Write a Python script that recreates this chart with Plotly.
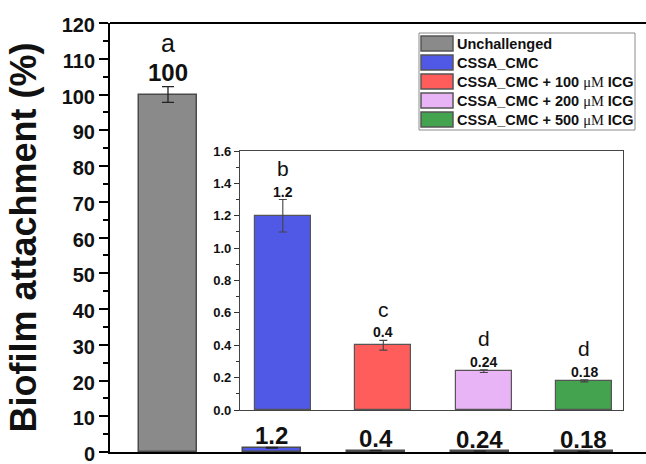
import plotly.graph_objects as go

# ---------------- data ----------------
categories = ["Unchallenged", "CSSA_CMC", "CSSA_CMC + 100 μM ICG",
              "CSSA_CMC + 200 μM ICG", "CSSA_CMC + 500 μM ICG"]
legend_labels = ["Unchallenged", "CSSA_CMC",
                 "CSSA_CMC + 100 <span style='font-family:Liberation Serif, Times New Roman, serif;font-weight:normal'>μM</span> ICG",
                 "CSSA_CMC + 200 <span style='font-family:Liberation Serif, Times New Roman, serif;font-weight:normal'>μM</span> ICG",
                 "CSSA_CMC + 500 <span style='font-family:Liberation Serif, Times New Roman, serif;font-weight:normal'>μM</span> ICG"]
values = [100, 1.2, 0.4, 0.24, 0.18]
errors = [2.2, 0.1, 0.03, 0.008, 0.006]
letters = ["a", "b", "c", "d", "d"]
colors = ["#8a8a8a", "#5058e6", "#ff5c5c", "#e9b4f5", "#43a34f"]
main_yticks = list(range(0, 121, 10))
inset_yticks = [0.0, 0.2, 0.4, 0.6, 0.8, 1.0, 1.2, 1.4, 1.6]

FONT = "Arial, Liberation Sans, sans-serif"
W, H = 646, 464
ML, MR, MT, MB = 110, 0, 23, 12
PW, PH = W - ML - MR, H - MT - MB


def px(x):
    return (x - ML) / PW


def py(y):
    return (H - MB - y) / PH


def fmt(v):
    return ("%g" % v)


fig = go.Figure()

# main bars
fig.add_trace(go.Bar(
    x=categories, y=values, width=0.558,
    marker=dict(color=colors, line=dict(color="#4a4a4a", width=1.5)),
    error_y=dict(type="data", array=errors, color="#222", thickness=1.3, width=6),
    xaxis="x", yaxis="y", showlegend=False, hoverinfo="skip"))

# inset bars (all but the first)
fig.add_trace(go.Bar(
    x=categories[1:], y=values[1:], width=0.554,
    marker=dict(color=colors[1:], line=dict(color="#555", width=1.2)),
    error_y=dict(type="data", array=errors[1:], color="#444", thickness=1.1, width=4),
    xaxis="x2", yaxis="y2", showlegend=False, hoverinfo="skip"))

annotations = []
# main labels
for i, (c, v, e) in enumerate(zip(categories, values, errors)):
    annotations.append(dict(x=c, y=v + e, xref="x", yref="y", text="<b>%s</b>" % fmt(v),
                            showarrow=False, yshift=14 if i == 0 else 12,
                            font=dict(family=FONT, size=24, color="#111")))
annotations.append(dict(x=categories[0], y=values[0] + errors[0], xref="x", yref="y",
                        text=letters[0], showarrow=False, yshift=44,
                        font=dict(family=FONT, size=25, color="#111")))
# inset labels
for c, v, e, l in zip(categories[1:], values[1:], errors[1:], letters[1:]):
    annotations.append(dict(x=c, y=v + e, xref="x2", yref="y2", text="<b>%s</b>" % fmt(v),
                            showarrow=False, yshift=8,
                            font=dict(family=FONT, size=14, color="#111")))
    annotations.append(dict(x=c, y=v + e, xref="x2", yref="y2", text=l,
                            showarrow=False, yshift=31,
                            font=dict(family=FONT, size=21, color="#111")))

# legend (manual, wide swatches)
shapes = [dict(type="rect", xref="paper", yref="paper", x0=px(419), x1=px(635),
               y0=py(130), y1=py(33), line=dict(color="#8c8c8c", width=1),
               fillcolor="white", layer="above")]
for k, (lab, col) in enumerate(zip(legend_labels, colors)):
    top = 36 + 19 * k
    shapes.append(dict(type="rect", xref="paper", yref="paper", x0=px(421), x1=px(453),
                       y0=py(top + 15), y1=py(top), fillcolor=col,
                       line=dict(color="#555", width=1.5), layer="above"))
    annotations.append(dict(x=px(455), y=py(top + 7.5), xref="paper", yref="paper",
                            text="<b>%s</b>" % lab, showarrow=False, xanchor="left",
                            yanchor="middle", font=dict(family=FONT, size=14.5, color="#111")))

# top border of main frame
shapes.append(dict(type="line", xref="paper", yref="paper", x0=0, x1=1, y0=1, y1=1,
                   line=dict(color="black", width=2)))

fig.update_layout(
    width=W, height=H, margin=dict(l=ML, r=MR, t=MT, b=MB, autoexpand=False),
    paper_bgcolor="white", plot_bgcolor="white",
    font=dict(family=FONT, color="#111"),
    xaxis=dict(domain=[0, 1], range=[-0.558, 4.6], showticklabels=False, ticks="",
               showline=True, linecolor="black", linewidth=2, showgrid=False,
               zeroline=False, fixedrange=True, automargin=False),
    yaxis=dict(range=[0, 120], tickvals=main_yticks, ticks="outside", ticklen=9,
               tickwidth=2, tickcolor="black", showline=True, linecolor="black",
               linewidth=2, showgrid=False, zeroline=False, ticklabeloverflow="allow",
               automargin=False, ticklabelshift=2,
               tickfont=dict(family=FONT, size=20, color="#111", weight="bold"),
               minor=dict(dtick=5, ticks="outside", ticklen=5, tickwidth=1.5, tickcolor="black"),
               title=dict(text="<b>Biofilm attachment (%)</b>", standoff=14,
                          font=dict(family=FONT, size=36, color="#111"))),
    xaxis2=dict(domain=[px(240), px(623)], anchor="y2", range=[-0.426, 3.385],
                showticklabels=False, ticks="", showline=True, mirror=True,
                linecolor="#444", linewidth=1.2, showgrid=False, zeroline=False),
    yaxis2=dict(domain=[py(410), py(151)], anchor="x2", range=[0, 1.6],
                tickvals=inset_yticks, ticktext=["%.1f" % t for t in inset_yticks],
                ticks="outside", ticklen=5, tickwidth=1.2, tickcolor="#333",
                showline=True, mirror=True, linecolor="#444", linewidth=1.2,
                showgrid=False, zeroline=False,
                tickfont=dict(family=FONT, size=13, color="#111", weight="bold"),
                minor=dict(dtick=0.1, ticks="outside", ticklen=3, tickwidth=1, tickcolor="#333")),
    annotations=annotations, shapes=shapes, bargap=0,
)

fig.write_html("out.html")
